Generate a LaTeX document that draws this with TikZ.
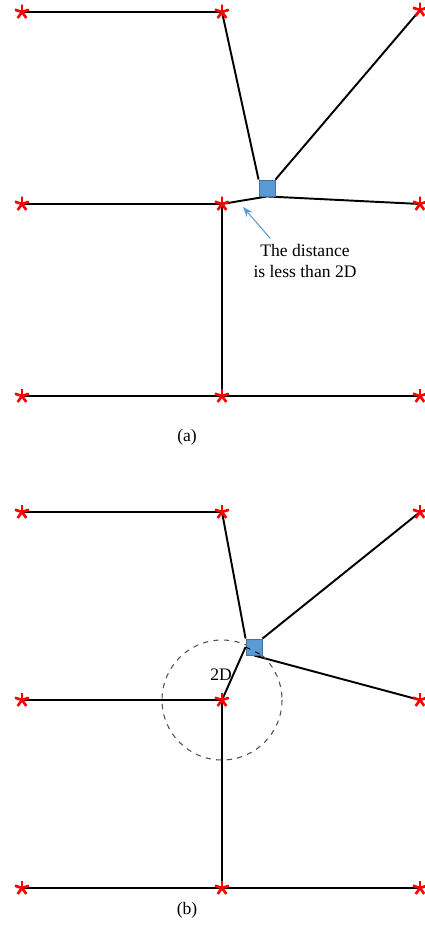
\documentclass[tikz,border=0pt]{standalone}
\usepackage{fontspec}
\setmainfont{Liberation Serif}
\usetikzlibrary{arrows.meta,calc,backgrounds}
\definecolor{redS}{HTML}{FF0000}
\definecolor{blueQ}{HTML}{5B9BD5}
\definecolor{blueQd}{HTML}{41719C}
\definecolor{greyC}{HTML}{505050}

\tikzset{
  starpt/.style={circle,inner sep=0pt,minimum size=0.3cm,
    path picture={\foreach \a in {90,18,-54,-126,162}
      \draw[redS,line width=1.5pt] (path picture bounding box.center) -- ++(\a:0.15cm);}},
  wire/.style={black,line width=1.1pt},
  sqbox/.style={draw=blueQd,fill=blueQ,line width=0.5pt,minimum size=0.32cm,inner sep=0pt},
  lbl/.style={font=\fontsize{10}{11.5}\selectfont,align=center}
}

\begin{document}
\begin{tikzpicture}[>=Stealth,x=0.02cm,y=-0.02cm]
  \useasboundingbox (0,0) rectangle (425,928);
  % (a)
  \node[starpt] (a1) at (22,12) {};
  \node[starpt] (a2) at (222,12) {};
  \node[starpt] (a3) at (420,10) {};
  \node[starpt] (a4) at (22,204) {};
  \node[starpt] (a5) at (222,204) {};
  \node[starpt] (a6) at (420,204) {};
  \node[starpt] (a7) at (22,396) {};
  \node[starpt] (a8) at (222,396) {};
  \node[starpt] (a9) at (420,396) {};
  \node[sqbox] (sqa) at (267,188) {};
  \begin{pgfonlayer}{background}
    \draw[wire] (a1.center) -- (a2.center) -- (sqa.north west);
    \draw[wire] (a3.center) -- (sqa.north east);
    \draw[wire] (a4.center) -- (a5.center) -- (sqa.south) -- (a6.center);
    \draw[wire] (a5.center) -- (a8.center);
    \draw[wire] (a7.center) -- (a9.center);
  \end{pgfonlayer}
  \node[lbl] (note) at (305,261) {The distance\\is less than 2D};
  \coordinate (tip) at (243,207);
  \draw[blueQ,line width=0.6pt,->] ($(note.north west)!0.2!(note.north east)$) -- (tip);
  \node[lbl] (capa) at (187,437) {(a)};
  % (b)
  \node[starpt] (b1) at (22,512) {};
  \node[starpt] (b2) at (222,512) {};
  \node[starpt] (b3) at (420,512) {};
  \node[starpt] (b4) at (22,700) {};
  \node[starpt] (b5) at (222,700) {};
  \node[starpt] (b6) at (420,700) {};
  \node[starpt] (b7) at (22,888) {};
  \node[starpt] (b8) at (222,888) {};
  \node[starpt] (b9) at (420,888) {};
  \node[sqbox] (sqb) at (254,647) {};
  \begin{pgfonlayer}{background}
    \draw[wire] (b1.center) -- (b2.center) -- (sqb.north west);
    \draw[wire] (b3.center) -- (sqb.north east);
    \draw[wire] (b4.center) -- (b5.center) -- (sqb.west);
    \draw[wire] (sqb.south) -- (b6.center);
    \draw[wire] (b5.center) -- (b8.center);
    \draw[wire] (b7.center) -- (b9.center);
    \draw[greyC,dashed,line width=0.6pt] (b5.center) circle[radius=60];
  \end{pgfonlayer}
  \draw[black,dashed,line width=0.5pt] (sqb.west) -- (sqb.south east);
  \node[lbl] (dist) at (221,675) {2D};
  \node[lbl] (capb) at (187,910) {(b)};
\end{tikzpicture}
\end{document}
